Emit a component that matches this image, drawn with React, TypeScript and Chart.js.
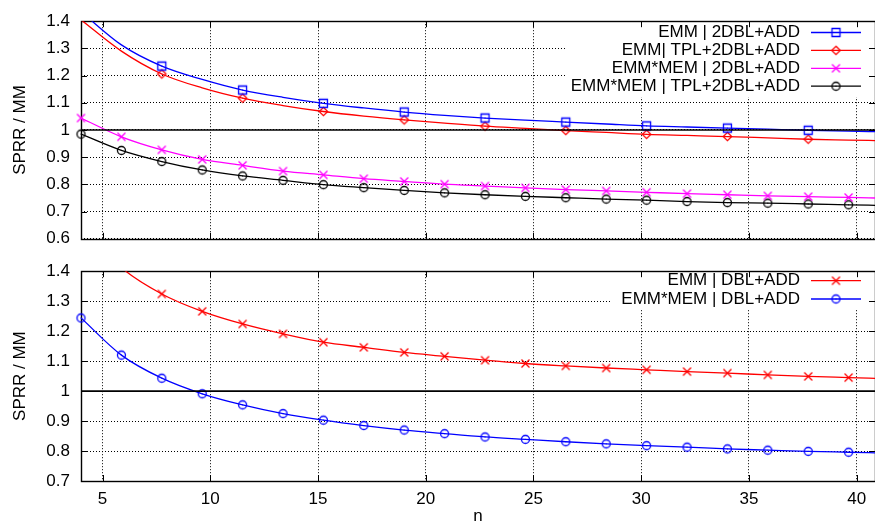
import React, { useEffect, useRef } from "react";
import { Chart, registerables } from "chart.js";

Chart.register(...registerables);

// ---------- data ----------
const nValues = [4, 5.875, 7.75, 9.625, 11.5, 13.375, 15.25, 17.125, 19, 20.875, 22.75, 24.625, 26.5, 28.375, 30.25, 32.125, 34, 35.875, 37.75, 39.625, 41.5];

// top panel
const emm2dblAdd = [1.435, 1.313, 1.235, 1.186, 1.147, 1.12, 1.098, 1.081, 1.066, 1.054, 1.044, 1.036, 1.029, 1.022, 1.015, 1.011, 1.007, 1.003, 0.999, 0.996, 0.993];
const emmTpl2dblAdd = [1.405, 1.29, 1.206, 1.155, 1.117, 1.09, 1.068, 1.051, 1.037, 1.025, 1.014, 1.006, 0.998, 0.991, 0.984, 0.98, 0.976, 0.971, 0.966, 0.963, 0.96];
const emmMem2dblAdd = [1.044, 0.975, 0.927, 0.892, 0.87, 0.849, 0.835, 0.821, 0.811, 0.801, 0.794, 0.787, 0.781, 0.776, 0.771, 0.766, 0.762, 0.758, 0.755, 0.752, 0.749];
const emmMemTpl2dblAdd = [0.985, 0.925, 0.884, 0.853, 0.831, 0.815, 0.799, 0.788, 0.778, 0.769, 0.762, 0.756, 0.751, 0.746, 0.742, 0.737, 0.733, 0.731, 0.728, 0.725, 0.722];

// bottom panel
const emmDblAdd = [1.56, 1.412, 1.324, 1.266, 1.224, 1.191, 1.163, 1.146, 1.129, 1.116, 1.103, 1.092, 1.084, 1.077, 1.071, 1.065, 1.06, 1.054, 1.049, 1.045, 1.041];
const emmMemDblAdd = [1.244, 1.12, 1.043, 0.991, 0.954, 0.925, 0.903, 0.885, 0.87, 0.858, 0.847, 0.839, 0.831, 0.824, 0.818, 0.813, 0.807, 0.803, 0.799, 0.796, 0.793];

const legendTop = ["EMM | 2DBL+ADD", "EMM| TPL+2DBL+ADD", "EMM*MEM | 2DBL+ADD", "EMM*MEM | TPL+2DBL+ADD"];
const legendBottom = ["EMM | DBL+ADD", "EMM*MEM | DBL+ADD"];

const xTicks = [5, 10, 15, 20, 25, 30, 35, 40];
const xTickLabels = ["5", "10", "15", "20", "25", "30", "35", "40"];
const yTopTicks = [0.6, 0.7, 0.8, 0.9, 1, 1.1, 1.2, 1.3, 1.4];
const yTopTickLabels = ["0.6", "0.7", "0.8", "0.9", "1", "1.1", "1.2", "1.3", "1.4"];
const yBottomTicks = [0.7, 0.8, 0.9, 1, 1.1, 1.2, 1.3, 1.4];
const yBottomTickLabels = ["0.7", "0.8", "0.9", "1", "1.1", "1.2", "1.3", "1.4"];

const xMin = 4;
const xMax = 40.85;
const refLevel = 1;
const xTitle = "n";
const yTitle = "SPRR / MM";

// ---------- styling ----------
const FONT = '"Liberation Sans", Arial, Helvetica, sans-serif';
const FS = 17;

function makeMarker(kind: string, color: string): HTMLCanvasElement {
  const c = document.createElement("canvas");
  c.width = 13;
  c.height = 13;
  const g = c.getContext("2d")!;
  const m = 6.5;
  g.strokeStyle = color;
  g.fillStyle = color;
  g.lineWidth = 1.3;
  g.beginPath();
  if (kind === "square") g.rect(m - 4, m - 4, 8, 8);
  else if (kind === "diamond") {
    g.moveTo(m, m - 4.2);
    g.lineTo(m + 4.2, m);
    g.lineTo(m, m + 4.2);
    g.lineTo(m - 4.2, m);
    g.closePath();
  } else if (kind === "circle") g.arc(m, m, 4, 0, Math.PI * 2);
  else if (kind === "x") {
    g.moveTo(m - 4, m - 4);
    g.lineTo(m + 4, m + 4);
    g.moveTo(m + 4, m - 4);
    g.lineTo(m - 4, m + 4);
  }
  g.stroke();
  if (kind !== "x") g.fillRect(6, 6, 1, 1);
  return c;
}

type Series = { values: number[]; color: string; marker: string; every: number; label: string };

type PanelCfg = {
  series: Series[];
  yMin: number;
  yMax: number;
  yTicks: number[];
  yLabels: string[];
  showX: boolean;
  padTop: number;
  xAxisHeight: number;
  box: { x: number; y: number; w: number; h: number };
  rowStart: number;
  rowStep: number;
};

function labelFor(ticks: number[], labels: string[], v: number) {
  const i = ticks.findIndex((t) => Math.abs(t - v) < 1e-9);
  return i >= 0 ? labels[i] : "";
}

function makeChart(canvas: HTMLCanvasElement, cfg: PanelCfg) {
  const font = { family: FONT, size: FS };
  const markers = cfg.series.map((s) => makeMarker(s.marker, s.color));
  const datasets: any[] = [];
  datasets.push({
    data: [
      { x: xMin, y: refLevel },
      { x: nValues[nValues.length - 1], y: refLevel },
    ],
    borderColor: "#000",
    borderWidth: 1.6,
    pointRadius: 0,
  });
  cfg.series.forEach((s, si) => {
    const pts = nValues.map((n, i) => ({ x: n, y: s.values[i] }));
    datasets.push({
      data: pts,
      borderColor: s.color,
      borderWidth: 1.3,
      pointRadius: 0,
      cubicInterpolationMode: "monotone",
      fill: false,
    });
    datasets.push({
      data: pts,
      showLine: false,
      clip: false,
      pointStyle: markers[si],
      pointRadius: (ctx: any) => {
        const i = ctx.dataIndex;
        return i % s.every === 0 && s.values[i] <= cfg.yMax && nValues[i] <= xMax ? 4 : 0;
      },
      pointHoverRadius: 0,
      borderColor: s.color,
      backgroundColor: s.color,
    });
  });

  const plugin = {
    id: "gnuplotDecor",
    beforeDatasetsDraw(chart: any) {
      const { ctx, chartArea: a } = chart;
      ctx.save();
      ctx.fillStyle = "#fff";
      ctx.fillRect(cfg.box.x, cfg.box.y, cfg.box.w, cfg.box.h);
      ctx.strokeStyle = "#000";
      ctx.lineWidth = 1;
      const xs = chart.scales.x;
      const ys = chart.scales.y;
      ctx.beginPath();
      xTicks.forEach((v) => {
        const px = Math.round(xs.getPixelForValue(v)) + 0.5;
        ctx.moveTo(px, a.bottom);
        ctx.lineTo(px, a.bottom - 6);
        ctx.moveTo(px, a.top);
        ctx.lineTo(px, a.top + 6);
      });
      cfg.yTicks.forEach((v) => {
        const py = Math.round(ys.getPixelForValue(v)) + 0.5;
        ctx.moveTo(a.left, py);
        ctx.lineTo(a.left + 6, py);
        ctx.moveTo(a.right, py);
        ctx.lineTo(a.right - 6, py);
      });
      ctx.stroke();
      ctx.lineWidth = 1.4;
      ctx.strokeRect(Math.round(a.left) + 0.5, Math.round(a.top) + 0.5, Math.round(a.right - a.left), Math.round(a.bottom - a.top));
      ctx.restore();
    },
    afterDatasetsDraw(chart: any) {
      const { ctx } = chart;
      ctx.save();
      ctx.font = `${FS}px ${FONT}`;
      ctx.textAlign = "right";
      ctx.textBaseline = "middle";
      cfg.series.forEach((s, i) => {
        const y = cfg.rowStart + i * cfg.rowStep;
        ctx.fillStyle = "#000";
        ctx.fillText(s.label, 800, y);
        ctx.strokeStyle = s.color;
        ctx.lineWidth = 1.3;
        ctx.beginPath();
        ctx.moveTo(811, y);
        ctx.lineTo(861, y);
        ctx.stroke();
        ctx.drawImage(markers[i], 836 - 6.5, y - 6.5);
      });
      ctx.restore();
    },
  };

  return new Chart(canvas, {
    type: "line",
    data: { datasets },
    options: {
      responsive: false,
      animation: false,
      events: [],
      layout: { padding: { top: cfg.padTop, right: 2, bottom: 0, left: 0 } },
      plugins: { legend: { display: false }, tooltip: { enabled: false } },
      scales: {
        x: {
          type: "linear",
          min: xMin,
          max: xMax,
          afterBuildTicks: (scale: any) => {
            scale.ticks = xTicks.map((v) => ({ value: v }));
          },
          afterFit: (scale: any) => {
            scale.height = cfg.xAxisHeight;
          },
          ticks: {
            display: cfg.showX,
            autoSkip: false,
            maxRotation: 0,
            padding: 8,
            color: "#000",
            font,
            callback: (v: any) => labelFor(xTicks, xTickLabels, v),
          },
          grid: { color: "#000", lineWidth: 1, drawTicks: false },
          border: { display: false, dash: [1, 2] },
          title: { display: cfg.showX, text: xTitle, color: "#000", font: { ...font, lineHeight: 1 }, padding: { top: 0, bottom: 0 } },
        },
        y: {
          type: "linear",
          min: cfg.yMin,
          max: cfg.yMax,
          afterBuildTicks: (scale: any) => {
            scale.ticks = cfg.yTicks.map((v) => ({ value: v }));
          },
          afterFit: (scale: any) => {
            scale.width = 81;
          },
          ticks: {
            autoSkip: false,
            padding: 11,
            color: "#000",
            font,
            callback: (v: any) => labelFor(cfg.yTicks, cfg.yLabels, v),
          },
          grid: { color: "#000", lineWidth: 1, drawTicks: false },
          border: { display: false, dash: [1, 2] },
          title: { display: true, text: yTitle, color: "#000", font: { ...font, lineHeight: 1.2 }, padding: { top: 10, bottom: 0 } },
        },
      },
    } as any,
    plugins: [plugin],
  });
}

export default function App() {
  const topRef = useRef<HTMLCanvasElement>(null);
  const botRef = useRef<HTMLCanvasElement>(null);

  useEffect(() => {
    const top = makeChart(topRef.current!, {
      series: [
        { values: emm2dblAdd, color: "#0000ff", marker: "square", every: 2, label: legendTop[0] },
        { values: emmTpl2dblAdd, color: "#ff0000", marker: "diamond", every: 2, label: legendTop[1] },
        { values: emmMem2dblAdd, color: "#ff00ff", marker: "x", every: 1, label: legendTop[2] },
        { values: emmMemTpl2dblAdd, color: "#000000", marker: "circle", every: 1, label: legendTop[3] },
      ],
      yMin: 0.6,
      yMax: 1.4,
      yTicks: yTopTicks,
      yLabels: yTopTickLabels,
      showX: false,
      padTop: 15,
      xAxisHeight: 15,
      box: { x: 566, y: 22, w: 320, h: 75 },
      rowStart: 32.5,
      rowStep: 17.9,
    });
    const bottom = makeChart(botRef.current!, {
      series: [
        { values: emmDblAdd, color: "#ff0000", marker: "x", every: 1, label: legendBottom[0] },
        { values: emmMemDblAdd, color: "#0000ff", marker: "circle", every: 1, label: legendBottom[1] },
      ],
      yMin: 0.7,
      yMax: 1.4,
      yTicks: yBottomTicks,
      yLabels: yBottomTickLabels,
      showX: true,
      padTop: 14,
      xAxisHeight: 44,
      box: { x: 611, y: 21, w: 270, h: 38 },
      rowStart: 30.7,
      rowStep: 18.3,
    });
    return () => {
      top.destroy();
      bottom.destroy();
    };
  }, []);

  return (
    <div style={{ position: "absolute", left: 0, top: 0, width: 875, height: 525, overflow: "hidden", background: "#fff" }}>
      <canvas ref={topRef} width={880} height={260} style={{ position: "absolute", left: 0, top: 0 }} />
      <canvas ref={botRef} width={880} height={275} style={{ position: "absolute", left: 0, top: 250 }} />
    </div>
  );
}
